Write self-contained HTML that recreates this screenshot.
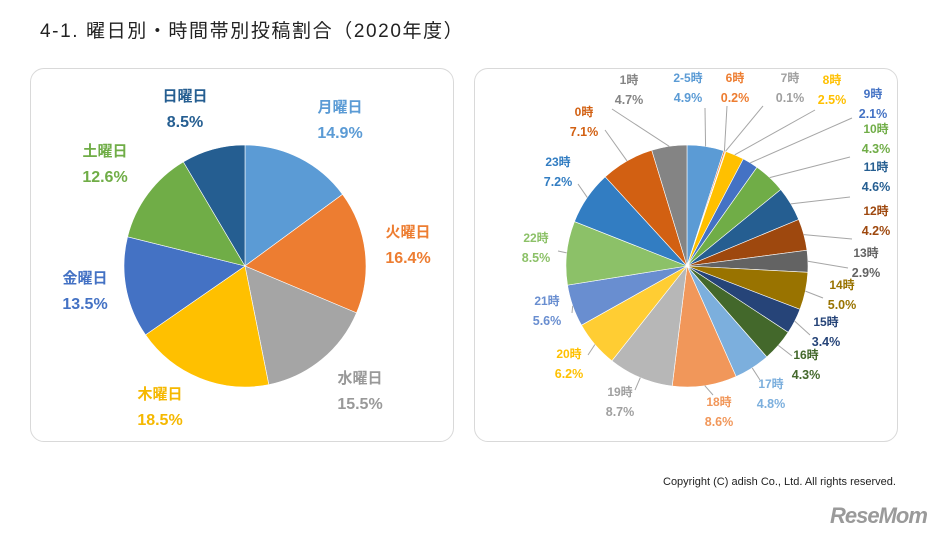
<!DOCTYPE html>
<html><head><meta charset="utf-8">
<style>
body{margin:0;width:941px;height:539px;background:#fff;font-family:"Liberation Sans","Noto Sans CJK JP",sans-serif;overflow:hidden;position:relative}
.title{position:absolute;left:40px;top:16px;font-size:19px;color:#222;letter-spacing:1.6px}
.panel{position:absolute;top:68px;width:424px;height:374px;border:1.5px solid #d9d9d9;border-radius:14px;box-sizing:border-box}
.copy{position:absolute;left:663px;top:476px;font-size:11px;color:#222}
.logo{position:absolute;left:830px;top:503px;font-size:22px;font-weight:bold;color:#9a9a9a;font-style:italic;letter-spacing:-1px}
svg{position:absolute;left:0;top:0}
</style></head><body>
<div class="title">4-1. 曜日別・時間帯別投稿割合（2020年度）</div>
<div class="panel" style="left:30px"></div>
<div class="panel" style="left:474px"></div>
<svg id="c" width="941" height="539"></svg>
<div class="copy">Copyright (C) adish Co., Ltd. All rights reserved.</div>
<div class="logo">ReseMom</div>
<script>
const dayCats=["月曜日","火曜日","水曜日","木曜日","金曜日","土曜日","日曜日"];
const dayVals=[14.9,16.4,15.5,18.5,13.5,12.6,8.5];
const hourCats=["2-5時","6時","7時","8時","9時","10時","11時","12時","13時","14時","15時","16時","17時","18時","19時","20時","21時","22時","23時","0時","1時"];
const hourVals=[4.9,0.2,0.1,2.5,2.1,4.3,4.6,4.2,2.9,5.0,3.4,4.3,4.8,8.6,8.7,6.2,5.6,8.5,7.2,7.1,4.7];
const dayColors=["#5B9BD5","#ED7D31","#A5A5A5","#FFC000","#4472C4","#70AD47","#255E91"];
const hourColors=["#5B9BD5","#ED7D31","#A5A5A5","#FFC000","#4472C4","#70AD47","#255E91","#9E480E","#636363","#997300","#264478","#43682B","#7CAFDD","#F1975A","#B7B7B7","#FFCD33","#698ED0","#8CC168","#327DC2","#D26012","#848484"];
const hourLabelColors=hourColors.map(c=>c==="#B7B7B7"?"#a0a0a0":c==="#FFCD33"?"#FFC000":c==="#A5A5A5"?"#a0a0a0":c);
// label layout (pixel positions: center x, first line y, leader anchor x,y)
const dayLbl=[[340,112],[408,237],[360,383],[160,399],[85,283],[105,156],[185,101]];
const hourLbl=[[688,82,705,108],[735,82,727,106],[790,82,763,106],[832,84,815,110],[873,98,852,118],[876,133,850,157],[876,171,850,197],[876,215,852,239],[866,257,848,268],[842,289,823,298],[826,326,810,335],[806,359,792,356],[771,388,760,380],[719,406,713,395],[620,396,635,390],[569,358,588,355],[547,305,572,313],[536,242,558,251],[558,166,578,184],[584,116,605,130],[629,84,612,109]];
const svg=document.getElementById('c');const NS="http://www.w3.org/2000/svg";
function el(t,a){const e=document.createElementNS(NS,t);for(const k in a)e.setAttribute(k,a[k]);svg.appendChild(e);return e;}
function pt(cx,cy,r,a){return [cx+r*Math.sin(a),cy-r*Math.cos(a)];}
function pie(cx,cy,r,vals,cols,name){
  const tot=vals.reduce((a,b)=>a+b,0);let a0=0;const mids=[];
  vals.forEach((v,i)=>{const a1=a0+v/tot*2*Math.PI;const p0=pt(cx,cy,r,a0),p1=pt(cx,cy,r,a1);
    const p=el('path',{d:`M${cx},${cy}L${p0[0]},${p0[1]}A${r},${r} 0 ${a1-a0>Math.PI?1:0} 1 ${p1[0]},${p1[1]}Z`,fill:cols[i],stroke:'#fff','stroke-width':0.6});
    
    
    mids.push((a0+a1)/2);a0=a1;});
  return mids;}
function txt(x,y,s,col,fs,nm){const t=el('text',{x:x,y:y,'text-anchor':'middle','font-size':fs,'font-weight':'bold',fill:col});t.textContent=s;
  
  }
pie(245,266,121,dayVals,dayColors,'weekday');
dayCats.forEach((c,i)=>{const l=dayLbl[i];const col=dayColors[i]==="#A5A5A5"?"#999":dayColors[i]==="#FFC000"?"#F5B800":dayColors[i];
  txt(l[0],l[1],c,col,15,'weekday-label-'+i);txt(l[0],l[1]+26,dayVals[i].toFixed(1)+'%',col,16,'weekday-value-'+i);});
const mids=pie(687,266,121,hourVals,hourColors,'hour');
hourCats.forEach((c,i)=>{const l=hourLbl[i];const p=pt(687,266,121,mids[i]);
  const ln=el('line',{x1:p[0],y1:p[1],x2:l[2],y2:l[3],stroke:'#a6a6a6','stroke-width':1});
  
  
  const col=hourLabelColors[i];
  txt(l[0],l[1],c,col,12,'hour-label-'+i);txt(l[0],l[1]+20,hourVals[i].toFixed(1)+'%',col,12.5,'hour-value-'+i);});
</script>
</body></html>
